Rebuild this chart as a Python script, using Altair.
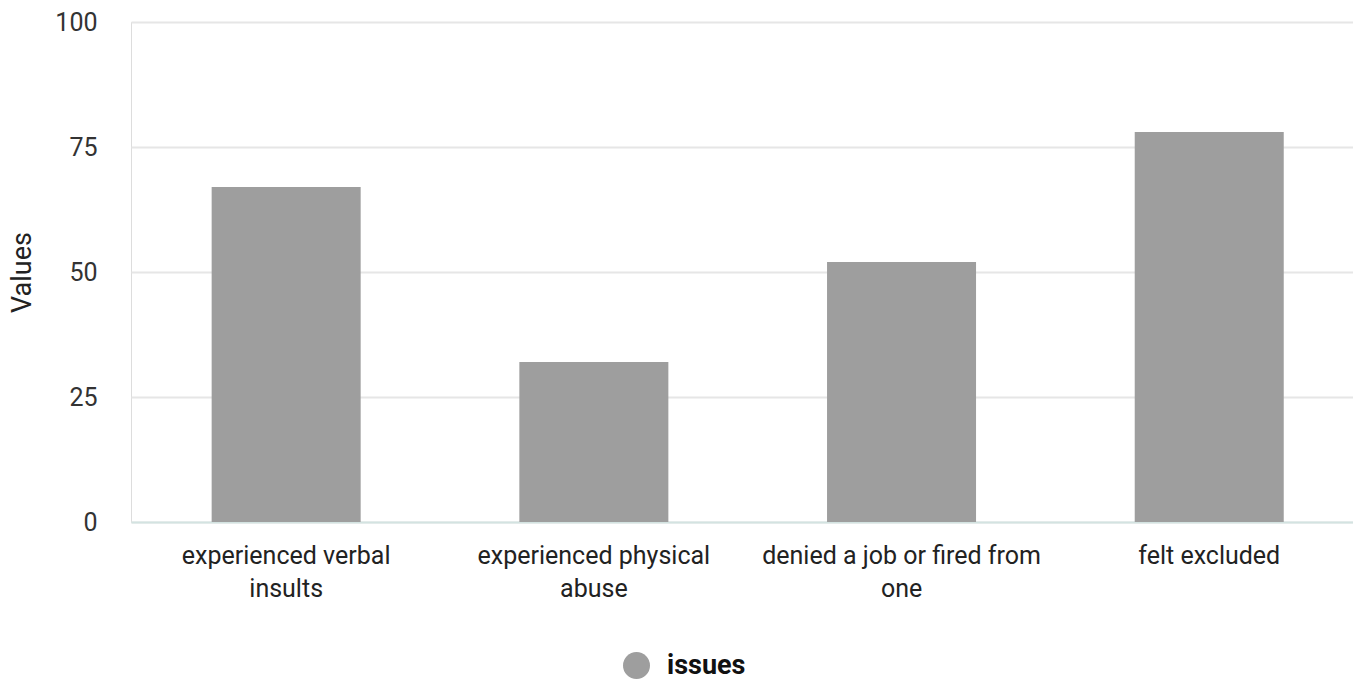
import altair as alt
import pandas as pd

# Survey categories (line breaks mark where the axis labels wrap)
categories = [
    "experienced verbal\ninsults",
    "experienced physical\nabuse",
    "denied a job or fired from\none",
    "felt excluded",
]
values = [67, 32, 52, 78]
series_name = "issues"
y_ticks = [0, 25, 50, 75, 100]

df = pd.DataFrame({
    "category": categories,
    "value": values,
    "series": [series_name] * len(categories),
})

FONT = "Roboto"

bars = alt.Chart(df).mark_bar(color="#9e9e9e").encode(
    x=alt.X(
        "category:N",
        sort=categories,
        title=None,
        scale=alt.Scale(paddingInner=0.5157, paddingOuter=0.2436, align=0.538),
        axis=alt.Axis(
            labelExpr="split(datum.label, '\\n')",
            labelAngle=0,
            labelLimit=0,
            labelFont=FONT,
            labelFontSize=25,
            labelColor="#222222",
            labelLineHeight=33,
            labelPadding=21,
            labelBaseline="top",
            ticks=False,
            domain=True,
            domainColor="#d3e3e1",
            domainWidth=2,
            grid=False,
        ),
    ),
    y=alt.Y(
        "value:Q",
        title="Values",
        scale=alt.Scale(domain=[0, 100], nice=False),
        axis=alt.Axis(
            values=y_ticks,
            labelFont=FONT,
            labelFontSize=25,
            labelColor="#333333",
            labelPadding=34,
            ticks=False,
            domain=False,
            grid=True,
            gridColor="#e6e6e6",
            gridWidth=2,
            titleFont=FONT,
            titleFontSize=27,
            titleFontWeight="normal",
            titleColor="#222222",
            titlePadding=18,
        ),
    ),
    color=alt.Color(
        "series:N",
        scale=alt.Scale(range=["#9e9e9e"]),
        legend=alt.Legend(
            title=None,
            orient="none",
            legendX=492,
            legendY=630,
            symbolType="circle",
            symbolSize=729,
            symbolStrokeWidth=0,
            symbolOpacity=1,
            labelFont=FONT,
            labelFontSize=27,
            labelFontWeight="bold",
            labelColor="#111111",
            labelOffset=17,
            padding=0,
        ),
    ),
)

chart = bars.properties(
    width=1222,
    height=500,
    padding={"left": 8, "top": 10, "right": 0, "bottom": 0},
).configure_view(stroke=None).configure(background="white")

chart.save("out.html", embed_options={"renderer": "svg", "actions": False})
